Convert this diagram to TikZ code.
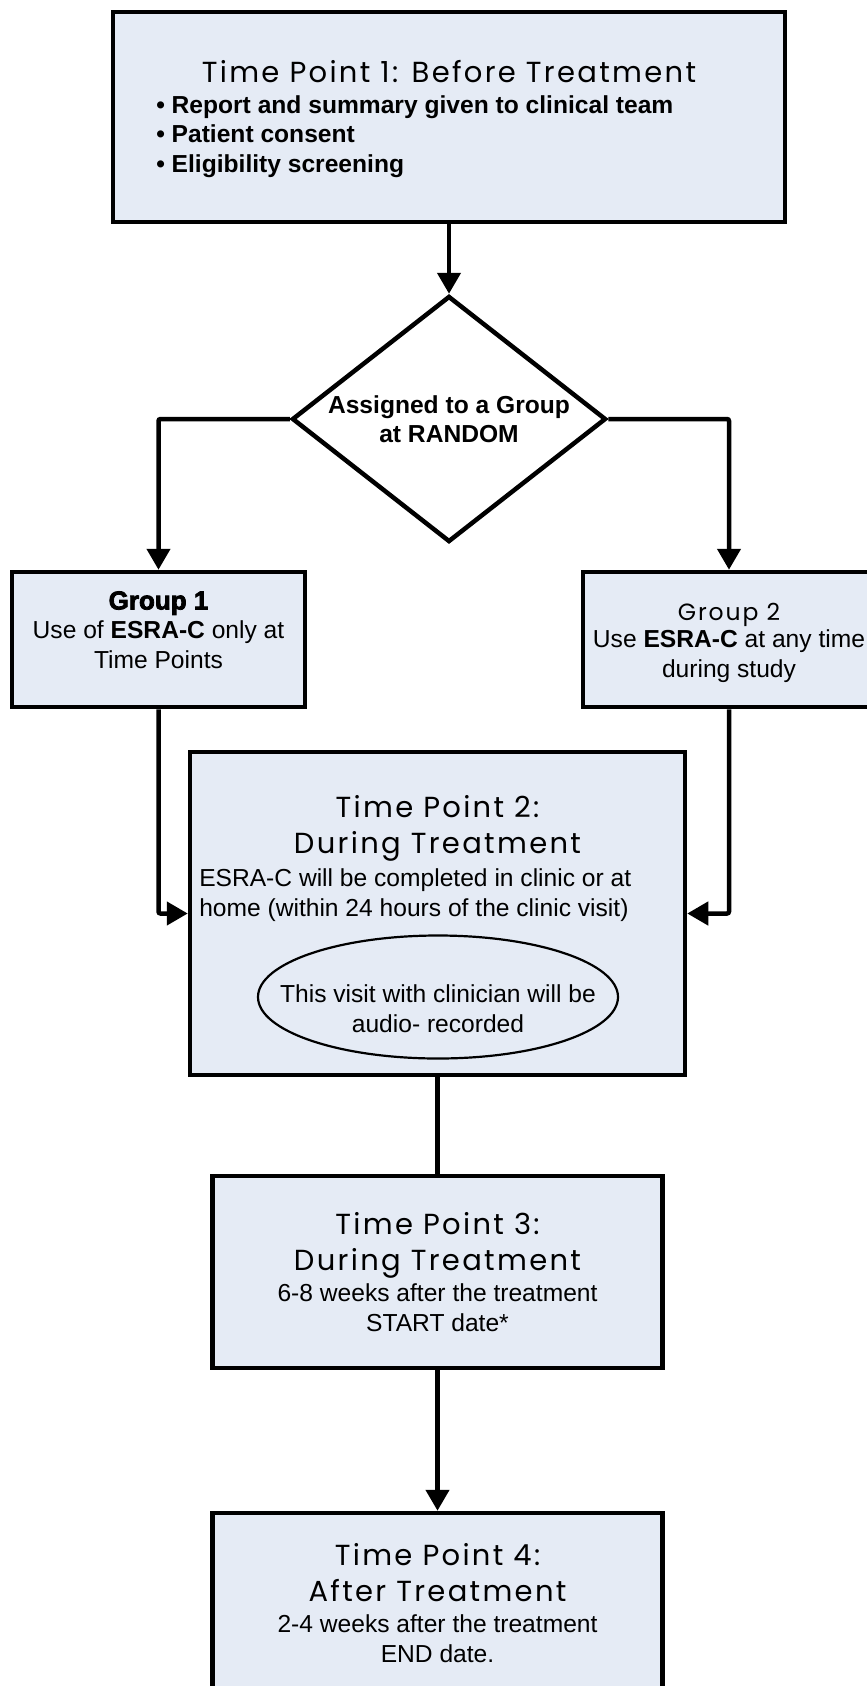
\documentclass[tikz,border=0pt]{standalone}
\usepackage{fontspec}
\setmainfont{Liberation Sans}
\newfontfamily\gothic[LetterSpace=8]{Poppins}
\newfontfamily\heavy[FakeBold=3]{Liberation Sans Bold}
\usetikzlibrary{arrows.meta, shapes.geometric}
\definecolor{boxc}{HTML}{E5EBF5}
\newcommand{\tpfont}{\fontsize{29}{36.5}\selectfont\gothic}
\newcommand{\bodyfont}{\fontsize{24.6}{29.5}\selectfont}

\begin{document}
\begin{tikzpicture}[x=1pt, y=-1pt, line width=4.5pt,
    >={Triangle[width=23pt,length=21pt]},
    panel/.style={rectangle, draw=black, fill=boxc, inner sep=0pt},
    link/.style={draw=black, rounded corners=2pt},
    head/.style={font=\tpfont, anchor=base, align=center, inner sep=0pt},
    body/.style={font=\bodyfont, anchor=base, align=center, inner sep=0pt}]
  \useasboundingbox (0,0) rectangle (867,1686);
  % boxes
  \node[panel, minimum width=672, minimum height=210] (tp1) at (449,117) {};
  \node[diamond, draw=black, fill=white, aspect=1.28, minimum width=314,
        minimum height=246, inner sep=0pt, align=center,
        font=\bodyfont\bfseries] (rand) at (449,419) {Assigned to a Group\\at RANDOM};
  \node[panel, minimum width=293, minimum height=135] (g1) at (158.5,639.5) {};
  \node[panel, minimum width=292, minimum height=135] (g2) at (729,639.5) {};
  \node[panel, minimum width=495, minimum height=323] (tp2) at (437.5,913.5) {};
  \node[ellipse, draw=black, fill=boxc, line width=2.2pt, minimum width=360,
        minimum height=123, inner sep=0pt] (audio) at (438,997) {};
  \node[panel, minimum width=450, minimum height=192] (tp3) at (437.5,1272) {};
  \node[panel, minimum width=450, minimum height=200] (tp4) at (437.5,1613) {};
  % connectors
  \draw[link, ->] (tp1.south) -- (rand.north);
  \draw[link, ->] (rand.west) -| (g1.north);
  \draw[link, ->] (rand.east) -| (g2.north);
  \draw[link, ->] (g1.south) |- (tp2.west);
  \draw[link, ->] (g2.south) |- (tp2.east);
  \draw[link] (tp2.south) -- (tp3.north);
  \draw[link, ->] (tp3.south) -- (tp4.north);
  % texts (base = last line)
  \node[head] (tp1h) at (449,82) {Time Point 1: Before Treatment};
  \node[body, font=\bodyfont\bfseries, anchor=base west, align=left] (tp1b) at (154,172)
    {\textbullet\ Report and summary given to clinical team\\
     \textbullet\ Patient consent\\
     \textbullet\ Eligibility screening};
  \node[body, font=\fontsize{26}{30}\selectfont] (g1h) at (158.5,609.5) {\heavy Group 1};
  \node[body] (g1b) at (158.5,668) {Use of \textbf{ESRA-C} only at\\Time Points};
  \node[head, font=\fontsize{23.5}{28}\selectfont\gothic] (g2h) at (729,620) {Group 2};
  \node[body] (g2b) at (729,677) {Use \textbf{ESRA-C} at any time\\during study};
  \node[head] (tp2h) at (437.5,853.5) {Time Point 2:\\During Treatment};
  \node[body, anchor=base west, align=left] (tp2b) at (197,916)
    {ESRA-C will be completed in clinic or at\\home (within 24 hours of the clinic visit)};
  \node[body] (audiot) at (438,1032) {This visit with clinician will be\\audio- recorded};
  \node[head] (tp3h) at (437.5,1270.5) {Time Point 3:\\During Treatment};
  \node[body] (tp3b) at (437.5,1331) {6-8 weeks after the treatment\\START date*};
  \node[head] (tp4h) at (437.5,1601.5) {Time Point 4:\\After Treatment};
  \node[body] (tp4b) at (437.5,1662) {2-4 weeks after the treatment\\END date.};
\end{tikzpicture}
\end{document}
